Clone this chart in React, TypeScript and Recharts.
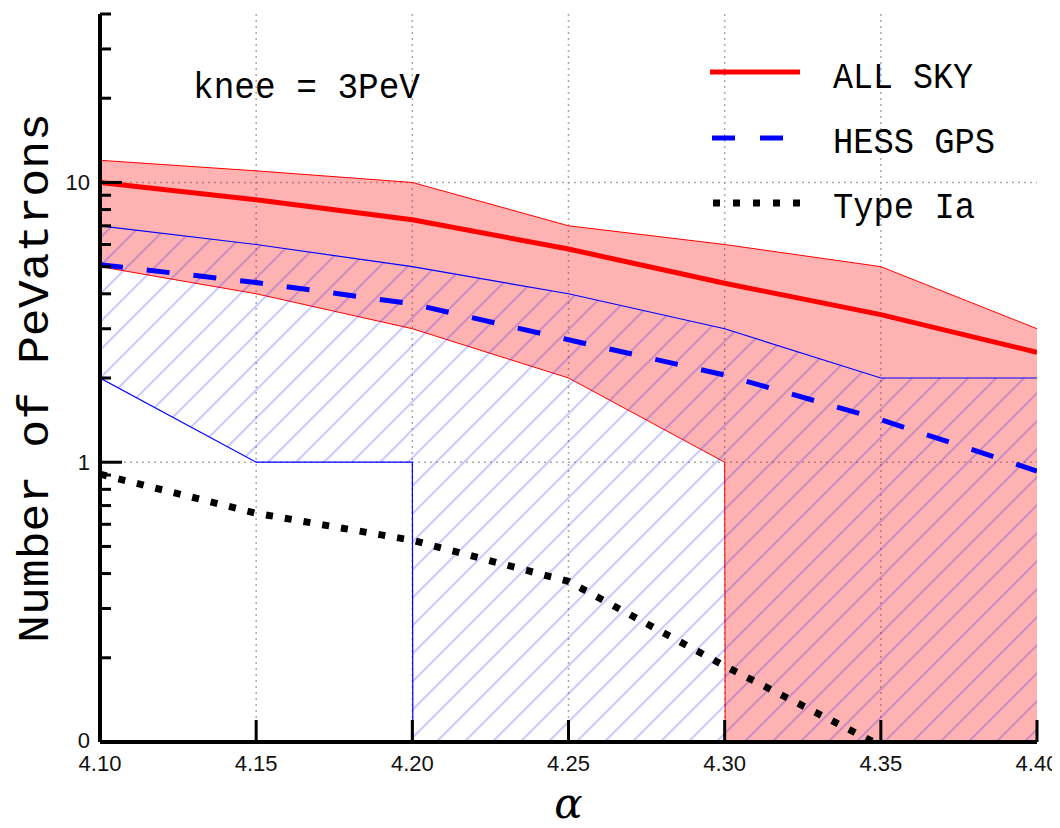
import React from 'react';
import { ComposedChart, Area, Line, XAxis, YAxis, CartesianGrid, Legend } from 'recharts';

// ---- data ----
const alphas = [4.1, 4.15, 4.2, 4.25, 4.3, 4.35, 4.4];
const allSkyMedian = [10, 8.67, 7.36, 5.78, 4.36, 3.37, 2.47];
const allSkyHigh = [12, 11, 10, 7, 6, 5, 3];
const allSkyLow = [5, 4, 3, 2, 1, 0, 0];
const hessMedian = [5.08, 4.39, 3.68, 2.74, 2.05, 1.42, 0.93];
const hessHigh = [7, 6, 5, 4, 3, 2, 2];
const hessLow = [2, 1, 1, 0, 0, 0, 0];
const typeIa = [0.906, 0.657, 0.526, 0.375, 0.187, 0.097, 0];

const xTicks = [4.1, 4.15, 4.2, 4.25, 4.3, 4.35, 4.4];
const xTickLabels = ['4.10', '4.15', '4.20', '4.25', '4.30', '4.35', '4.40'];
const xGrid = [4.15, 4.2, 4.25, 4.3, 4.35];
const yMajorTicks = [0.1, 1, 10];
const yTickLabels = ['0', '1', '10'];
const yMinorTicks = [0.2, 0.3, 0.4, 0.5, 0.6, 0.7, 0.8, 0.9, 2, 3, 4, 5, 6, 7, 8, 9, 20, 30, 40];
const yGrid = [1, 10];
const yDomain = [0.1, 40];
const xDomain = [4.1, 4.4];

const seriesNames = ['ALL SKY', 'HESS GPS', 'Type Ia'];
const annotation = 'knee = 3PeV';
const yLabel = 'Number of PeVatrons';
const xLabel = 'α';

// log axis: non-positive values are clipped to a tiny positive value (like matplotlib)
const CLIP = 1e-300;
const pos = (v: number) => (v > 0 ? v : CLIP);

const table = alphas.map((a, i) => ({
  x: a,
  allSkyBand: [pos(allSkyLow[i]), pos(allSkyHigh[i])],
  hessBand: [pos(hessLow[i]), pos(hessHigh[i])],
  allSky: pos(allSkyMedian[i]),
  hess: pos(hessMedian[i]),
  typeIa: pos(typeIa[i]),
}));

const yTicksAll = [...yMajorTicks, ...yMinorTicks].sort((a, b) => a - b);

const MONO = "'Liberation Mono', 'Courier New', 'Nimbus Mono PS', 'FreeMono', 'DejaVu Sans Mono', monospace";
const SANS = "'Liberation Sans', Arial, sans-serif";

const isMajorY = (v: number) => yMajorTicks.some((m) => Math.abs(m - v) < 1e-9);

const makeTick = (side: 'left' | 'right' | 'top' | 'bottom') => (props: any) => {
  const { x, y, payload } = props;
  const v = payload.value;
  const major = side === 'top' || side === 'bottom' ? true : isMajorY(v);
  const len = major ? 22 : 11;
  const sw = 3;
  if (side === 'bottom') {
    const idx = xTicks.findIndex((t) => Math.abs(t - v) < 1e-9);
    return (
      <g>
        <line x1={x} x2={x} y1={y} y2={y - len} stroke="#000" strokeWidth={sw} />
        <text x={x} y={y + 29} textAnchor="middle" fontFamily={SANS} fontSize={22} fill="#111">
          {idx >= 0 ? xTickLabels[idx] : ''}
        </text>
      </g>
    );
  }
  if (side === 'top') {
    return <line x1={x} x2={x} y1={y} y2={y + len} stroke="#000" strokeWidth={sw} />;
  }
  if (side === 'left') {
    const idx = yMajorTicks.findIndex((t) => Math.abs(t - v) < 1e-9);
    return (
      <g>
        <line x1={x} x2={x + len} y1={y} y2={y} stroke="#000" strokeWidth={sw} />
        {idx >= 0 && (
          <text x={x - 10} y={idx === 0 ? y - 2 : y} textAnchor="end" dominantBaseline="central" fontFamily={SANS} fontSize={22} fill="#111">
            {yTickLabels[idx]}
          </text>
        )}
      </g>
    );
  }
  return <line x1={x} x2={x - len} y1={y} y2={y} stroke="#000" strokeWidth={sw} />;
};

const LegendBox = () => (
  <svg width={340} height={200} style={{ display: 'block', overflow: 'visible' }}>
    <line x1={10} x2={100} y1={32} y2={32} stroke="#ff0000" strokeWidth={5} />
    <line x1={12} x2={83} y1={98} y2={98} stroke="#0000ff" strokeWidth={5} strokeDasharray="23 25" />
    <line x1={13} x2={100} y1={163} y2={163} stroke="#000" strokeWidth={7} strokeDasharray="7 13" />
    <text x={133} y={48} fontFamily={MONO} fontSize={37} textLength={140} lengthAdjust="spacingAndGlyphs" fill="#000">
      {seriesNames[0]}
    </text>
    <text x={133} y={113} fontFamily={MONO} fontSize={37} textLength={162} lengthAdjust="spacingAndGlyphs" fill="#000">
      {seriesNames[1]}
    </text>
    <text x={133} y={178} fontFamily={MONO} fontSize={37} textLength={142} lengthAdjust="spacingAndGlyphs" fill="#000">
      {seriesNames[2]}
    </text>
  </svg>
);

export default function App() {
  return (
    <div style={{ width: 1052, height: 820, position: 'relative' }}>
      <ComposedChart width={1052} height={820} data={table} margin={{ top: 6, right: 23, bottom: 0, left: 0 }}>
        <defs>
          <pattern id="hatch" patternUnits="userSpaceOnUse" width={19.8} height={19.8} patternTransform="rotate(-45)">
            <line x1={0} x2={19.8} y1={10} y2={10} stroke="rgba(0,0,255,0.22)" strokeWidth={2} />
          </pattern>
        </defs>
        <XAxis
          dataKey="x"
          type="number"
          domain={xDomain}
          ticks={xTicks}
          interval={0}
          allowDataOverflow
          height={86}
          tickSize={0}
          tickMargin={0}
          tickLine={false}
          axisLine={{ stroke: '#000', strokeWidth: 4 }}
          tick={makeTick('bottom')}
          label={{
            content: (p: any) => {
              const vb = p.viewBox;
              return (
                <text x={vb.x + vb.width / 2} y={vb.y + 76} textAnchor="middle" fontFamily="'DejaVu Serif', 'Liberation Serif', serif" fontStyle="italic" fontSize={42} fill="#000">
                  {xLabel}
                </text>
              );
            },
          }}
        />
        <XAxis
          xAxisId="top"
          orientation="top"
          dataKey="x"
          type="number"
          domain={xDomain}
          ticks={xTicks}
          interval={0}
          allowDataOverflow
          height={0}
          tickSize={0}
          tickMargin={0}
          tickLine={false}
          axisLine={{ stroke: '#000', strokeWidth: 4 }}
          tick={makeTick('top')}
        />
        <YAxis
          type="number"
          scale="log"
          domain={yDomain}
          ticks={yTicksAll}
          interval={0}
          allowDataOverflow
          width={92}
          tickSize={0}
          tickMargin={0}
          tickLine={false}
          axisLine={{ stroke: '#000', strokeWidth: 4 }}
          tick={makeTick('left')}
          label={{
            content: (p: any) => {
              const vb = p.viewBox;
              const cx = vb.x + 40;
              const cy = vb.y + vb.height / 2;
              return (
                <text x={cx} y={cy} transform={`rotate(-90 ${cx} ${cy})`} textAnchor="middle" fontFamily={MONO} fontSize={45} textLength={530} lengthAdjust="spacingAndGlyphs" fill="#000">
                  {yLabel}
                </text>
              );
            },
          }}
        />
        <YAxis
          yAxisId="right"
          orientation="right"
          type="number"
          scale="log"
          domain={yDomain}
          ticks={yTicksAll}
          interval={0}
          allowDataOverflow
          width={0}
          tickSize={0}
          tickMargin={0}
          tickLine={false}
          axisLine={{ stroke: '#000', strokeWidth: 4 }}
          tick={makeTick('right')}
        />
        <Area
          dataKey="allSkyBand"
          type="linear"
          fill="#ff0000"
          fillOpacity={0.3}
          stroke="#ff0000"
          strokeWidth={1}
          isAnimationActive={false}
          legendType="none"
        />
        <Area
          dataKey="hessBand"
          type="linear"
          fill="url(#hatch)"
          fillOpacity={1}
          stroke="#0000ff"
          strokeWidth={1.2}
          isAnimationActive={false}
          legendType="none"
        />
        <CartesianGrid
          horizontalValues={yGrid}
          verticalValues={xGrid}
          stroke="#aaaaaa"
          strokeWidth={1.5}
          strokeDasharray="2 4"
        />
        <Line dataKey="allSky" name={seriesNames[0]} type="linear" stroke="#ff0000" strokeWidth={5} dot={false} activeDot={false} isAnimationActive={false} />
        <Line dataKey="hess" name={seriesNames[1]} type="linear" stroke="#0000ff" strokeWidth={5} strokeDasharray="23 24" dot={false} activeDot={false} isAnimationActive={false} />
        <Line dataKey="typeIa" name={seriesNames[2]} type="linear" stroke="#000" strokeWidth={7} strokeDasharray="7 12" dot={false} activeDot={false} isAnimationActive={false} />
        <text x={185} y={90} fontFamily={MONO} fontSize={37} textLength={227} lengthAdjust="spacingAndGlyphs" fill="#000">
          {annotation}
        </text>
        <Legend
          layout="vertical"
          align="center"
          verticalAlign="middle"
          content={() => <LegendBox />}
          wrapperStyle={{ position: 'absolute', left: 692, top: 32, width: 340, height: 200 }}
        />
      </ComposedChart>
    </div>
  );
}
